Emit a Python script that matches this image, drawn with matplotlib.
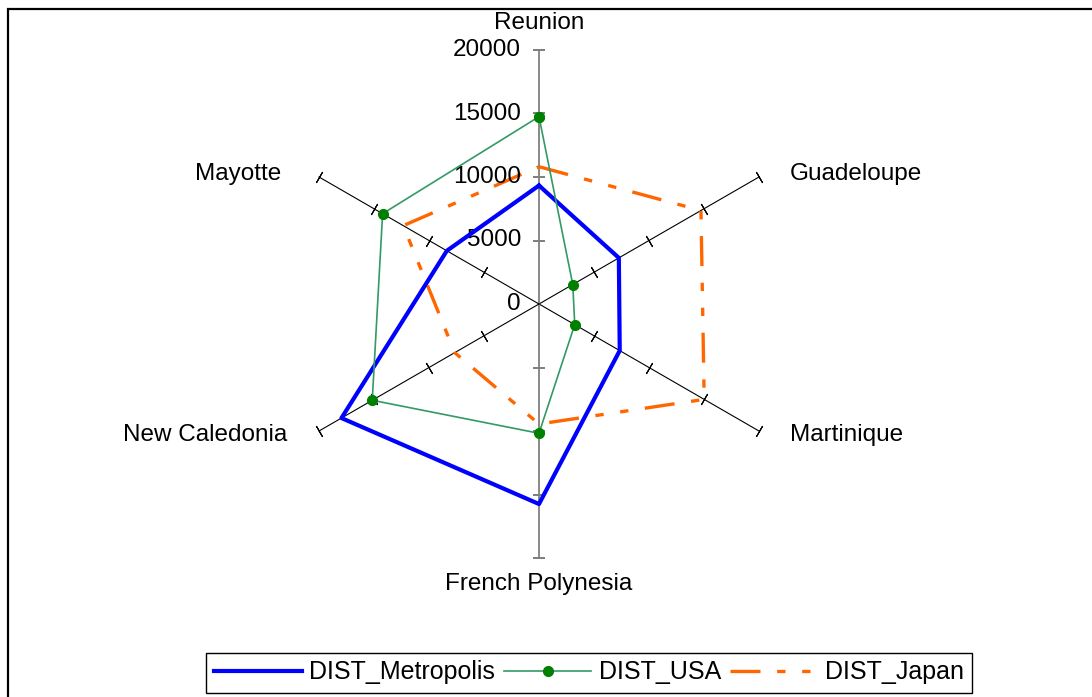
import numpy as np
import matplotlib
matplotlib.use('Agg')
import matplotlib.pyplot as plt
from matplotlib.patches import Rectangle
from matplotlib.lines import Line2D

categories = ['Reunion', 'Guadeloupe', 'Martinique', 'French Polynesia', 'New Caledonia', 'Mayotte']
dist_metropolis = [9330, 7260, 7340, 15750, 17960, 8380]
dist_usa = [14750, 3070, 3250, 10180, 15160, 14220]
dist_japan = [10810, 14725, 15020, 9450, 7660, 12340]
r_ticks = [0, 5000, 10000, 15000, 20000]
r_tick_labels = ['0', '5000', '10000', '15000', '20000']
r_max = 20000

plt.rcParams['font.family'] = ['Liberation Sans', 'DejaVu Sans']

W, H = 1092, 697
fig = plt.figure(figsize=(W / 100, H / 100), dpi=100)
cx, cy, R = 539, 304, 254
ax = fig.add_axes([(cx - R) / W, (H - cy - R) / H, 2 * R / W, 2 * R / H], projection='polar')
ax.set_theta_zero_location('N')
ax.set_theta_direction(-1)
ax.set_ylim(0, r_max)
ax.axis('off')

n = len(categories)
theta = np.arange(n) * 2 * np.pi / n

# spokes with perpendicular tick marks
for i, th in enumerate(theta):
    vertical = i in (0, 3)
    col = '#808080' if vertical else 'black'
    lw = 1.3 if vertical else 0.8
    ax.plot([th, th], [0, r_max], color=col, lw=lw, zorder=1, clip_on=False)
    rot = 90 - np.degrees(th)
    ax.plot([th] * 4, r_ticks[1:], ls='none', marker=(2, 2, rot), ms=9,
            mew=lw, color=col, zorder=1, clip_on=False)

# radial tick labels on Reunion axis
for r, lab in zip(r_ticks, r_tick_labels):
    ax.annotate(lab, xy=(0, r), xytext=(-18, 0), textcoords='offset pixels',
                ha='right', va='center', fontsize=17.5, color='black')

# category labels
offsets = [(0, 27, 'center'), (31, 3, 'left'), (31, -4, 'left'),
           (0, -26, 'center'), (-32, -4, 'right'), (-38, 3, 'right')]
for th, lab, (dx, dy, ha) in zip(theta, categories, offsets):
    ax.annotate(lab, xy=(th, r_max), xytext=(dx, dy), textcoords='offset pixels',
                ha=ha, va='center', fontsize=17.5, color='black')

th_closed = np.append(theta, theta[0])
def closed(v):
    return np.append(v, v[0])

japan_ls = (0, (9, 5, 2.5, 5, 2.5, 5))
ax.plot(th_closed, closed(dist_metropolis), color='#0000FF', lw=3, zorder=3, clip_on=False)
ax.plot(th_closed, closed(dist_usa), color='#339966', lw=1.2, marker='o', ms=7,
        mfc='#008000', mec='#008000', zorder=4, clip_on=False)
ax.plot(th_closed, closed(dist_japan), color='#FF6600', lw=2.4, ls=japan_ls, zorder=2, clip_on=False)

handles = [
    Line2D([], [], color='#0000FF', lw=3),
    Line2D([], [], color='#339966', lw=1.2, marker='o', ms=7, mfc='#008000', mec='#008000'),
    Line2D([], [], color='#FF6600', lw=2.4, ls=japan_ls),
]
leg = fig.legend(handles, ['DIST_Metropolis', 'DIST_USA', 'DIST_Japan'],
                 loc='center', bbox_to_anchor=(589 / W, 1 - 672.5 / H), ncol=3,
                 fontsize=18, frameon=True, fancybox=False, framealpha=1,
                 edgecolor='black', handlelength=3.5, handletextpad=0.3,
                 columnspacing=0.35, borderpad=0.32, borderaxespad=0)
leg.get_frame().set_linewidth(1.0)

# outer frame
fig.add_artist(Rectangle((8 / W, -0.05), 1.1, (1 - 9 / H) + 0.05,
                         transform=fig.transFigure, fill=False, lw=1.6, ec='black'))

fig.savefig('out.png', dpi=100)
